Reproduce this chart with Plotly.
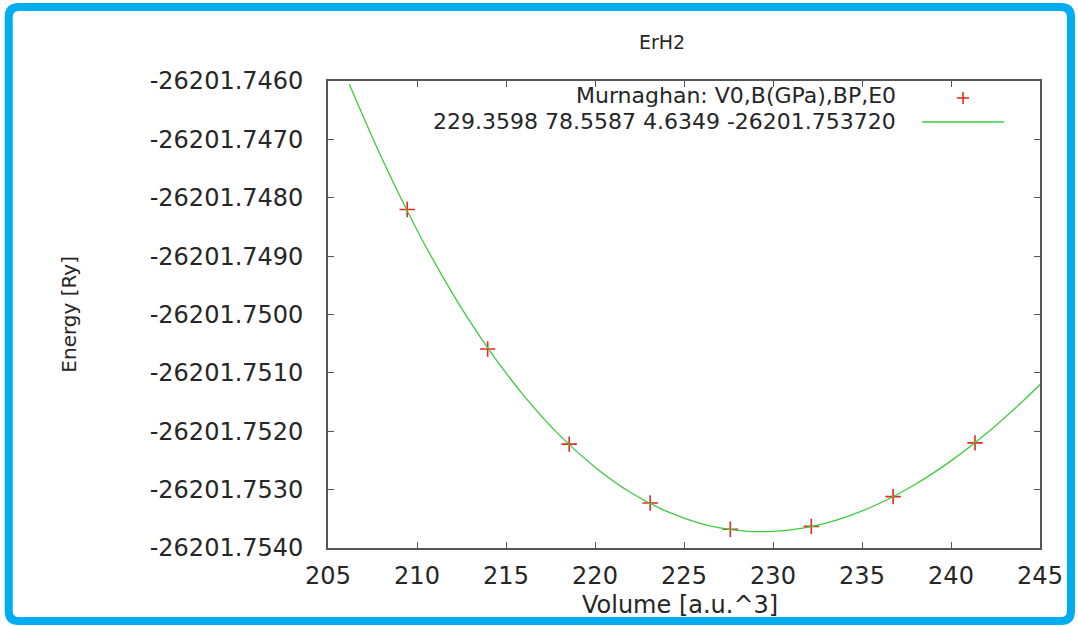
import plotly.graph_objects as go

# ---- data ----
volume_pts = [209.45, 213.97, 218.55, 223.10, 227.60, 232.15, 236.75, 241.35]
energy_pts = [-26201.74820, -26201.75059, -26201.75222, -26201.75323,
              -26201.75368, -26201.75363, -26201.75312, -26201.75220]

fit_volume = [206.2, 208, 210, 212, 214, 216, 218, 220, 222, 224, 226, 228,
              229.36, 230, 232, 234, 236, 238, 240, 242, 244, 245]
fit_energy = [-26201.746056, -26201.747308, -26201.748552, -26201.749641,
              -26201.750583, -26201.751389, -26201.752066, -26201.752615,
              -26201.753049, -26201.753370, -26201.753585, -26201.753697,
              -26201.753720, -26201.753715, -26201.753641, -26201.753478,
              -26201.753233, -26201.752908, -26201.752508, -26201.752036,
              -26201.751494, -26201.751200]

x_ticks = [205, 210, 215, 220, 225, 230, 235, 240, 245]
y_tick_labels = ["-26201.7540", "-26201.7530", "-26201.7520", "-26201.7510",
                 "-26201.7500", "-26201.7490", "-26201.7480", "-26201.7470",
                 "-26201.7460"]
y_ticks = [float(s) for s in y_tick_labels]

title_text = "ErH2"
legend_line1 = "Murnaghan: V0,B(GPa),BP,E0"
legend_line2 = "229.3598 78.5587 4.6349 -26201.753720"

# ---- layout geometry (pixels) ----
W, H = 1078, 626
L, R, T, B = 327.5, 1040.0, 81.0, 548.0
PW, PH = R - L, B - T


def px(x):
    return (x - L) / PW


def py(y):
    return (B - y) / PH


FONT = "DejaVu Sans"
TXT = "#262626"
AX = "#555555"
FS = 24

fig = go.Figure()
fig.add_trace(go.Scatter(
    x=volume_pts, y=energy_pts, mode="markers",
    marker=dict(symbol="cross-thin", size=11, line=dict(color="#e8281e", width=1.6)),
    showlegend=False, hoverinfo="skip"))
fig.add_trace(go.Scatter(
    x=fit_volume, y=fit_energy, mode="lines", line_shape="spline",
    line=dict(color="#3ccc3c", width=1.3),
    showlegend=False, hoverinfo="skip"))

fig.update_layout(
    width=W, height=H,
    margin=dict(l=L, r=W - R, t=T, b=H - B, pad=0),
    paper_bgcolor="white", plot_bgcolor="white",
    font=dict(family=FONT, color=TXT),
    showlegend=False,
)
fig.update_xaxes(
    range=[205, 245], tickvals=x_ticks, ticktext=[str(v) for v in x_ticks],
    ticks="inside", ticklen=6, tickcolor=AX, tickwidth=1.2,
    showline=True, linecolor=AX, linewidth=1.6, mirror="ticks",
    showgrid=False, zeroline=False,
    tickfont=dict(family=FONT, size=FS, color=TXT), ticklabelstandoff=5)
fig.update_yaxes(
    range=[y_ticks[0], y_ticks[-1]], tickvals=y_ticks, ticktext=y_tick_labels,
    ticks="inside", ticklen=6, tickcolor=AX, tickwidth=1.2,
    showline=True, linecolor=AX, linewidth=1.6, mirror="ticks",
    showgrid=False, zeroline=False,
    tickfont=dict(family=FONT, size=FS, color=TXT), ticklabelstandoff=18)

ann = []
ann.append(dict(text=title_text, x=px(662), y=py(42), xref="paper", yref="paper",
                xanchor="center", yanchor="middle", showarrow=False,
                font=dict(family=FONT, size=19, color=TXT)))
ann.append(dict(text="Volume [a.u.^3]", x=px(680), y=py(605), xref="paper", yref="paper",
                xanchor="center", yanchor="middle", showarrow=False,
                font=dict(family=FONT, size=FS, color=TXT)))
ann.append(dict(text="Energy [Ry]", x=px(68), y=py(314), xref="paper", yref="paper",
                xanchor="center", yanchor="middle", showarrow=False, textangle=-90,
                font=dict(family=FONT, size=20, color=TXT)))
ann.append(dict(text=legend_line1, x=px(898), y=py(95), xref="paper", yref="paper",
                xanchor="right", yanchor="middle", showarrow=False,
                font=dict(family=FONT, size=22, color=TXT)))
ann.append(dict(text=legend_line2, x=px(898), y=py(121), xref="paper", yref="paper",
                xanchor="right", yanchor="middle", showarrow=False,
                font=dict(family=FONT, size=22, color=TXT)))
fig.update_layout(annotations=ann)

shapes = []
# key samples
shapes.append(dict(type="line", xref="paper", yref="paper",
                   x0=px(957), x1=px(969), y0=py(98), y1=py(98),
                   line=dict(color="#e8281e", width=1.6)))
shapes.append(dict(type="line", xref="paper", yref="paper",
                   x0=px(963), x1=px(963), y0=py(92), y1=py(104),
                   line=dict(color="#e8281e", width=1.6)))
shapes.append(dict(type="line", xref="paper", yref="paper",
                   x0=px(922), x1=px(1004), y0=py(122), y1=py(122),
                   line=dict(color="#3ccc3c", width=1.3)))

# blue rounded frame around the picture
fx0, fx1, fy0, fy1, rad = 8, 1071, 7, 621, 10
pts = [
    ("M", fx0 + rad, fy0), ("L", fx1 - rad, fy0), ("Q", fx1, fy0, fx1, fy0 + rad),
    ("L", fx1, fy1 - rad), ("Q", fx1, fy1, fx1 - rad, fy1),
    ("L", fx0 + rad, fy1), ("Q", fx0, fy1, fx0, fy1 - rad),
    ("L", fx0, fy0 + rad), ("Q", fx0, fy0, fx0 + rad, fy0),
]
path = ""
for p in pts:
    cmd, vals = p[0], p[1:]
    coords = []
    for i in range(0, len(vals), 2):
        coords.append(f"{px(vals[i]):.5f},{py(vals[i + 1]):.5f}")
    path += cmd + " " + " ".join(coords) + " "
path += "Z"
shapes.append(dict(type="path", xref="paper", yref="paper", path=path,
                   line=dict(color="#00aeef", width=8), fillcolor="rgba(0,0,0,0)",
                   layer="above"))
fig.update_layout(shapes=shapes)

fig.write_html("out.html", config={"displayModeBar": False},
               post_script="document.body.style.margin='0';document.body.style.overflow='hidden';")
